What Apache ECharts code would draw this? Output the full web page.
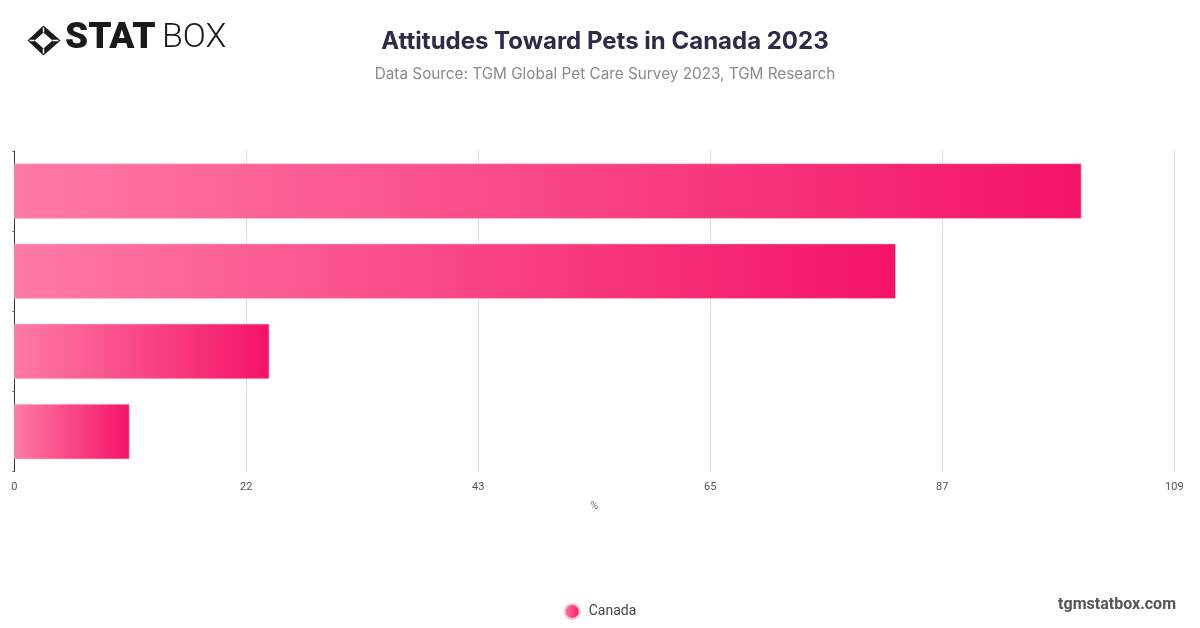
<!DOCTYPE html>
<html>
<head>
<meta charset="utf-8">
<script src="https://cdn.jsdelivr.net/npm/echarts@6/dist/echarts.min.js"></script>
<style>
html,body{margin:0;padding:0;background:#fff;}
#chart{width:1200px;height:628px;}
</style>
</head>
<body>
<div id="chart"></div>
<script>
const categories = ['Attitude 1', 'Attitude 2', 'Attitude 3', 'Attitude 4'];
const seriesName = 'Canada';
const values = [100, 82.6, 23.9, 10.8];
const axisMax = 108.7;
const axisInterval = 21.74;

const chart = echarts.init(document.getElementById('chart'));
const grad = new echarts.graphic.LinearGradient(0, 0, 1, 0, [
  {offset: 0, color: '#ff7aa5'},
  {offset: 1, color: '#f31368'}
]);
chart.setOption({
  backgroundColor: '#ffffff',
  animation: false,
  title: [{
    text: 'Attitudes Toward Pets in Canada 2023',
    left: 600, top: 25, textAlign: 'center',
    textStyle: {fontFamily: 'Inter', fontWeight: 'bold', fontSize: 24, color: '#2e2a48'}
  }, {
    text: 'Data Source: TGM Global Pet Care Survey 2023, TGM Research',
    left: 600, top: 62, textAlign: 'center',
    textStyle: {fontFamily: 'Inter', fontWeight: 'normal', fontSize: 15.3, color: '#8a8a8a'}
  }],
  legend: {
    data: [seriesName],
    bottom: 3, left: 'center',
    icon: 'circle', itemWidth: 15, itemHeight: 15,
    textStyle: {fontFamily: 'Roboto', fontSize: 14, color: '#444', padding: [0, 0, 0, 4]}
  },
  grid: {left: 14.3, right: 25.7, top: 151, height: 320.7, containLabel: false},
  xAxis: {
    type: 'value', min: 0, max: axisMax, interval: axisInterval,
    name: '%', nameLocation: 'middle', nameGap: 29,
    nameTextStyle: {fontFamily: 'Roboto', fontSize: 11, color: '#777'},
    axisLine: {show: false}, axisTick: {show: false},
    axisLabel: {fontFamily: 'Roboto', fontSize: 11, color: '#555', margin: 10,
      formatter: v => Math.round(v)},
    splitLine: {show: true, lineStyle: {color: '#dcdcdc', width: 1}}
  },
  yAxis: {
    type: 'category', data: categories, inverse: true,
    axisLine: {show: true, lineStyle: {color: '#333', width: 1}},
    axisTick: {show: true, length: 2, lineStyle: {color: '#666'}},
    axisLabel: {show: false},
    splitLine: {show: false}
  },
  series: [{
    name: seriesName, type: 'bar', data: values,
    barCategoryGap: '31%',
    itemStyle: {color: grad, borderColor: '#ffc2d6', borderWidth: 0.6}
  }],
  graphic: [
    {type: 'group', left: 27, top: 25, children: [
      {type: 'polygon', shape: {points: [[16,0],[33,15],[16,30],[0,15]]}, style: {fill: '#1a1a1a'}},
      {type: 'polygon', shape: {points: [[16,7],[25,15],[16,23],[7,15]]}, style: {fill: '#ffffff'}},
      {type: 'polyline', shape: {points: [[16,2],[16,7]]}, style: {stroke: '#fff', lineWidth: 1.5}},
      {type: 'polyline', shape: {points: [[16,23],[16,28]]}, style: {stroke: '#fff', lineWidth: 1.5}},
      {type: 'polyline', shape: {points: [[2,15],[7,15]]}, style: {stroke: '#fff', lineWidth: 1.5}},
      {type: 'polyline', shape: {points: [[25,15],[31,15]]}, style: {stroke: '#fff', lineWidth: 1.5}}
    ]},
    {type: 'text', left: 65, top: 20, style: {text: 'STAT', fontFamily: 'Roboto', fontWeight: 900, fontSize: 37, fill: '#1a1a1a'}},
    {type: 'text', left: 162, top: 21, style: {text: 'BOX', fontFamily: 'Roboto', fontWeight: 300, fontSize: 34, fill: '#1a1a1a'}},
    {type: 'text', right: 24, top: 597, style: {text: 'tgmstatbox.com', fontFamily: 'Roboto', fontWeight: 'bold', fontSize: 16, fill: '#555'}}
  ]
});
</script>
</body>
</html>
